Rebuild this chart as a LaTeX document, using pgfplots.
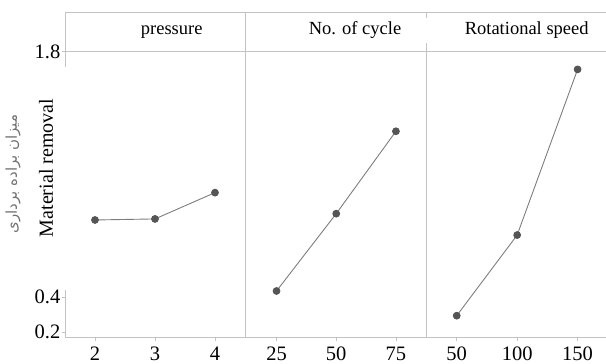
\documentclass[border=0pt]{standalone}
\usepackage{pgfplots}
\pgfplotsset{compat=1.18}
\usepackage{fontspec}
\setmainfont{Liberation Serif}
\newfontfamily\arabicfont[Script=Arabic]{DejaVu Sans}
\TeXXeTstate=1
\definecolor{framecol}{RGB}{195,195,195}
\definecolor{linecol}{RGB}{125,125,125}
\definecolor{markcol}{RGB}{85,85,85}
\pgfplotsset{
  panel/.style={
    scale only axis, height=325pt, ymin=0.1658, ymax=2.0197,
    anchor=south west, clip=false,
    axis line style={draw=none},
    tick style={framecol, line width=0.8pt},
    tick align=outside,
    major tick length=3.5pt,
    xtick pos=bottom, ytick pos=left,
    xticklabel={\pgfmathprintnumber[assume math mode=true]{\tick}},
    yticklabel={\pgfmathprintnumber[assume math mode=true, fixed, precision=1, fixed zerofill]{\tick}},
    ticklabel style={font=\fontsize{20.5}{24}\selectfont},
    xticklabel style={inner sep=0pt, yshift=-5pt},
    yticklabel style={inner sep=1pt},
  },
  series/.style={color=linecol, line width=0.9pt, mark=*, mark size=3.4pt,
    mark options={fill=markcol, draw=markcol}},
}
\begin{document}
\begin{tikzpicture}[x=1pt,y=1pt]
\useasboundingbox (0,0) rectangle (606,364);
% panel 1
\begin{axis}[panel, at={(65pt,26pt)}, width=180pt,
  xmin=1.5, xmax=4.5, xtick={2,3,4}, ytick={0.2,0.4,1.8}]
\addplot[series] coordinates {(2,0.839) (3,0.845) (4,0.995)};
\end{axis}
% panel 2
\begin{axis}[panel, at={(245pt,26pt)}, width=181.5pt,
  xmin=11.8, xmax=87.8, xtick={25,50,75}, ytick=\empty]
\addplot[series] coordinates {(25,0.434) (50,0.875) (75,1.345)};
\end{axis}
% panel 3
\begin{axis}[panel, at={(426.5pt,26pt)}, width=179.5pt,
  xmin=25, xmax=173.5, xtick={50,100,150}, ytick=\empty]
\addplot[series] coordinates {(50,0.293) (100,0.753) (150,1.698)};
\end{axis}
% frame
\begin{scope}[framecol, line width=1pt]
\draw (65,351) -- (606,351);
\draw (65,26) -- (606,26);
\draw (65,312.5) -- (606,312.5);
\draw (65,351) -- (65,297);
\draw (65,74) -- (65,26);
\draw (245,351) -- (245,26);
\draw (426.5,351) -- (426.5,346);
\draw (426.5,321) -- (426.5,26);
\end{scope}
% headers
\begin{scope}[font=\fontsize{18.5}{22}\selectfont]
\node[anchor=base, inner sep=0pt] at (171.7,329) {pressure};
\node[anchor=base, inner sep=0pt] at (355,329) {No. of cycle};
\node[anchor=base, inner sep=0pt] at (526.7,329) {Rotational speed};
\end{scope}
% y labels
\node[rotate=90, font=\fontsize{20}{24}\selectfont, inner sep=0pt] at (46,196) {Material removal};
\node[rotate=90, font=\arabicfont\fontsize{15}{18}\selectfont, text=black!55, inner sep=0pt] at (13,190) {\beginR میزان براده برداری\endR};
\end{tikzpicture}
\end{document}
